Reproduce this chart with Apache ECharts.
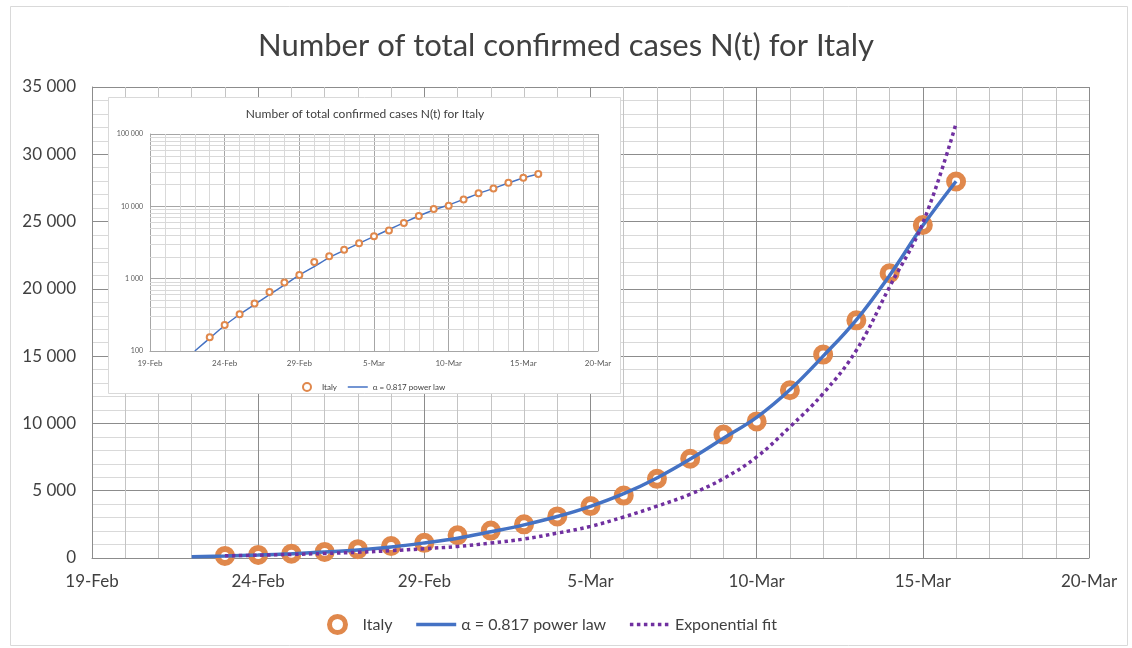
<!DOCTYPE html>
<html>
<head>
<meta charset="utf-8">
<script src="https://cdn.jsdelivr.net/npm/echarts@6/dist/echarts.min.js"></script>
<style>html,body{margin:0;padding:0;background:#fff}#c{width:1132px;height:648px}</style>
</head>
<body>
<div id="c"></div>
<script>
// ---- data ----
const dates = ['2020-02-23','2020-02-24','2020-02-25','2020-02-26','2020-02-27','2020-02-28','2020-02-29','2020-03-01','2020-03-02','2020-03-03','2020-03-04','2020-03-05','2020-03-06','2020-03-07','2020-03-08','2020-03-09','2020-03-10','2020-03-11','2020-03-12','2020-03-13','2020-03-14','2020-03-15','2020-03-16'];
const italy = [155,229,322,453,655,888,1128,1694,2036,2502,3089,3858,4636,5883,7375,9172,10149,12462,15113,17660,21157,24747,27980];
const powerDates = ['2020-02-22','2020-02-23','2020-02-24','2020-02-25','2020-02-26','2020-02-27','2020-02-28','2020-02-29','2020-03-01','2020-03-02','2020-03-03','2020-03-04','2020-03-05','2020-03-06','2020-03-07','2020-03-08','2020-03-09','2020-03-10','2020-03-11','2020-03-12','2020-03-13','2020-03-14','2020-03-15','2020-03-16'];
const powerLaw = [100,150,225,320,440,600,820,1120,1470,1950,2460,3080,3840,4780,5950,7350,8900,10450,12500,15000,17700,21000,24700,28000];
const expDates = dates;
const expFit = [165,210,265,335,425,545,690,860,1110,1410,1850,2350,3050,3850,4740,5900,7510,9740,12220,15440,20150,24890,32300];
const logMinor = [200,300,400,500,600,700,800,900,2000,3000,4000,5000,6000,7000,8000,9000,20000,30000,40000,50000,60000,70000,80000,90000];
const startDate = '2020-02-19';
const months = ['Jan','Feb','Mar','Apr'];
const titleText = 'Number of total confirmed cases N(t) for Italy';

// ---- helpers ----
const base = Date.parse(startDate);
const dayIdx = s => Math.round((Date.parse(s) - base) / 864e5);
const dayLabel = v => { const d = new Date(base + v * 864e5); return d.getUTCDate() + '-' + months[d.getUTCMonth()]; };
const sp = v => String(v).replace(/\B(?=(\d{3})+(?!\d))/g, ' ');
const pairs = (ds, vs) => ds.map((d, i) => [dayIdx(d), vs[i]]);

const FONT = 'Lato';
const TXT = '#404040';
const ORANGE = '#E0884C';
const BLUE = '#4472C4';
const PURPLE = '#7030A0';
const hideSym = {opacity: 0};

const chart = echarts.init(document.getElementById('c'), null, {renderer: 'canvas'});
chart.setOption({
  animation: false,
  textStyle: {fontFamily: FONT},
  title: {
    text: titleText, left: 'center', top: 25, z: 8,
    textStyle: {fontFamily: FONT, fontSize: 31, fontWeight: 400, color: TXT}
  },
  graphic: [
    {type: 'rect', z: -1, shape: {x: 10.5, y: 6.5, width: 1117, height: 639}, style: {fill: 'none', stroke: '#d9d9d9', lineWidth: 1}},
    {type: 'rect', z: 3, shape: {x: 108.5, y: 97.5, width: 512, height: 296}, style: {fill: '#fff', stroke: '#d9d9d9', lineWidth: 1}},
    {type: 'text', z: 8, x: 365, y: 114, style: {text: titleText, fontFamily: FONT, fontSize: 12, fill: TXT, textAlign: 'center', textVerticalAlign: 'middle'}}
  ],
  legend: [
    {
      data: [
        {name: 'Italy', itemStyle: {borderWidth: 5}},
        {name: 'α = 0.817 power law', itemStyle: hideSym, lineStyle: {width: 3.5}},
        {name: 'Exponential fit', itemStyle: hideSym, lineStyle: {width: 3.5, type: [3.5, 3.5]}}
      ],
      left: 322, top: 609, itemWidth: 40, itemHeight: 16, itemGap: 22, z: 8,
      textStyle: {fontFamily: FONT, fontSize: 16, color: TXT}
    },
    {
      data: [
        {name: 'Italy '},
        {name: 'α = 0.817 power law ', itemStyle: hideSym, lineStyle: {width: 1.5}}
      ],
      left: 297, top: 377, itemWidth: 20, itemHeight: 8, itemGap: 8, z: 8,
      textStyle: {fontFamily: FONT, fontSize: 8, color: TXT}
    }
  ],
  grid: [
    {left: 92, right: 43, top: 87, bottom: 90, show: false},
    {left: 150, right: 534, top: 134, bottom: 297, show: false}
  ],
  xAxis: [
    {
      type: 'value', gridIndex: 0, min: 0, max: 30, interval: 1,
      axisLine: {show: true, onZero: false, lineStyle: {color: '#8c8c8c', width: 1}},
      axisTick: {show: false},
      axisLabel: {fontSize: 17, color: TXT, margin: 15, fontFamily: FONT,
        formatter: v => (v % 5 === 0 ? dayLabel(v) : '')},
      splitLine: {show: true, lineStyle: {color: ['#8c8c8c','#c4c4c4','#c4c4c4','#c4c4c4','#c4c4c4'], width: 1}}
    },
    {
      type: 'value', gridIndex: 1, min: 0, max: 30, interval: 1, z: 4,
      axisLine: {show: true, onZero: false, lineStyle: {color: '#a6a6a6', width: 1}},
      axisTick: {show: false},
      axisLabel: {fontSize: 8, color: '#595959', margin: 8, fontFamily: FONT,
        formatter: v => (v % 5 === 0 ? dayLabel(v) : '')},
      splitLine: {show: true, lineStyle: {color: ['#a6a6a6','#d9d9d9','#d9d9d9','#d9d9d9','#d9d9d9'], width: 1}}
    }
  ],
  yAxis: [
    {
      type: 'value', gridIndex: 0, min: 0, max: 35000, interval: 1000,
      axisLine: {show: true, lineStyle: {color: '#8c8c8c', width: 1}},
      axisTick: {show: false},
      axisLabel: {fontSize: 17, color: TXT, margin: 16, fontFamily: FONT,
        formatter: v => (v % 5000 === 0 ? sp(v) : '')},
      splitLine: {show: true, lineStyle: {color: ['#8c8c8c','#d9d9d9','#d9d9d9','#d9d9d9','#d9d9d9'], width: 1}}
    },
    {
      type: 'log', gridIndex: 1, min: 100, max: 100000, logBase: 10, z: 4,
      axisLine: {show: true, lineStyle: {color: '#a6a6a6', width: 1}},
      axisTick: {show: false},
      axisLabel: {fontSize: 7, color: '#595959', margin: 7, fontFamily: FONT, formatter: v => sp(v)},
      splitLine: {show: true, lineStyle: {color: '#a6a6a6', width: 1}}
    }
  ],
  series: [
    {
      name: 'Italy', type: 'scatter', xAxisIndex: 0, yAxisIndex: 0, z: 3,
      data: pairs(dates, italy), symbol: 'circle', symbolSize: 14,
      itemStyle: {color: '#fff', borderColor: ORANGE, borderWidth: 6, opacity: 1}
    },
    {
      name: 'α = 0.817 power law', type: 'line', xAxisIndex: 0, yAxisIndex: 0, z: 4,
      data: pairs(powerDates, powerLaw), smooth: 0.4, showSymbol: false, symbol: 'none',
      lineStyle: {color: BLUE, width: 3.5}, itemStyle: {color: BLUE}
    },
    {
      name: 'Exponential fit', type: 'line', xAxisIndex: 0, yAxisIndex: 0, z: 5,
      data: pairs(expDates, expFit), smooth: 0.4, showSymbol: false, symbol: 'none',
      lineStyle: {color: PURPLE, width: 3.5, type: [3.5, 3.5], cap: 'butt'}, itemStyle: {color: PURPLE}
    },
    {
      name: 'minor', type: 'line', xAxisIndex: 1, yAxisIndex: 1, z: 4, data: [], silent: true,
      markLine: {silent: true, symbol: 'none', label: {show: false}, animation: false,
        lineStyle: {color: '#d9d9d9', width: 1, type: 'solid'},
        emphasis: {disabled: true},
        data: logMinor.map(v => ({yAxis: v}))}
    },
    {
      name: 'Italy ', type: 'scatter', xAxisIndex: 1, yAxisIndex: 1, z: 6,
      data: pairs(dates, italy), symbol: 'circle', symbolSize: 6,
      itemStyle: {color: '#fff', borderColor: ORANGE, borderWidth: 2, opacity: 1}
    },
    {
      name: 'α = 0.817 power law ', type: 'line', xAxisIndex: 1, yAxisIndex: 1, z: 5,
      data: pairs(powerDates, powerLaw), smooth: 0.4, showSymbol: false, symbol: 'none',
      lineStyle: {color: BLUE, width: 1.5}, itemStyle: {color: BLUE}
    }
  ]
});
</script>
</body>
</html>
